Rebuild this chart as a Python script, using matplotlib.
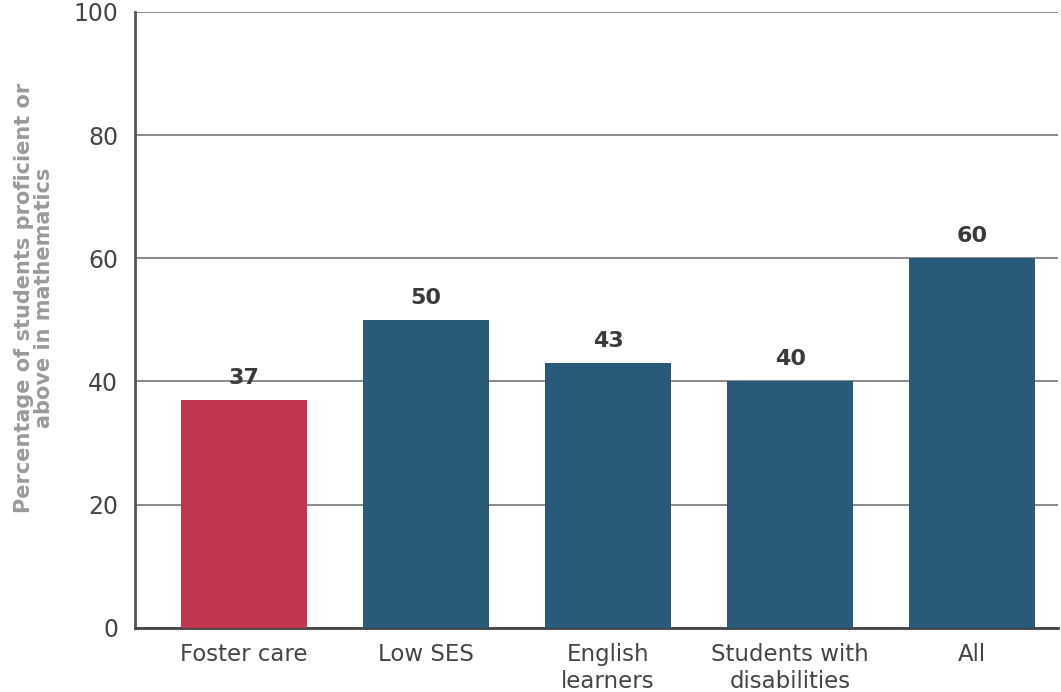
import matplotlib.pyplot as plt
import numpy as np

plt.rcParams['font.family'] = ['DejaVu Sans']

categories = ['Foster care', 'Low SES', 'English\nlearners', 'Students with\ndisabilities', 'All']
values = [37, 50, 43, 40, 60]
bar_colors = ['#C1354F', '#2A5A7A', '#2A5A7A', '#2A5A7A', '#2A5A7A']

fig = plt.figure(figsize=(10.61, 6.92), dpi=100)
ax = fig.add_axes([0.127, 0.0925, 0.870, 0.8905])

x = np.arange(len(categories))
ax.bar(x, values, width=0.69, color=bar_colors, zorder=3)

for xi, v in zip(x, values):
    ax.text(xi, v + 2.0, str(v), ha='center', va='bottom', fontsize=16,
            fontweight='bold', color='#3a3a3a')

ax.set_ylim(0, 100)
ax.set_xlim(-0.60, 4.47)
ax.set_yticks([0, 20, 40, 60, 80, 100])
ax.yaxis.grid(True, color='#777777', linewidth=1.2, zorder=0)
ax.set_xticks(x)
ax.set_xticklabels(categories, fontsize=16.5, color='#454545', linespacing=1.2)
ax.tick_params(axis='y', labelsize=17, colors='#454545', length=0, pad=12)
ax.tick_params(axis='x', length=0, pad=11)

for s in ['top', 'right']:
    ax.spines[s].set_visible(False)
ax.spines['left'].set_color('#555555')
ax.spines['left'].set_linewidth(2)
ax.spines['bottom'].set_color('#444444')
ax.spines['bottom'].set_linewidth(2)

ax.set_ylabel('Percentage of students proficient or\nabove in mathematics', fontsize=15,
              color='#9a9a9a', fontweight='bold', linespacing=1.0,
              multialignment='center')
ax.yaxis.set_label_coords(-0.088, 0.535)

plt.savefig('out.png', dpi=100)
